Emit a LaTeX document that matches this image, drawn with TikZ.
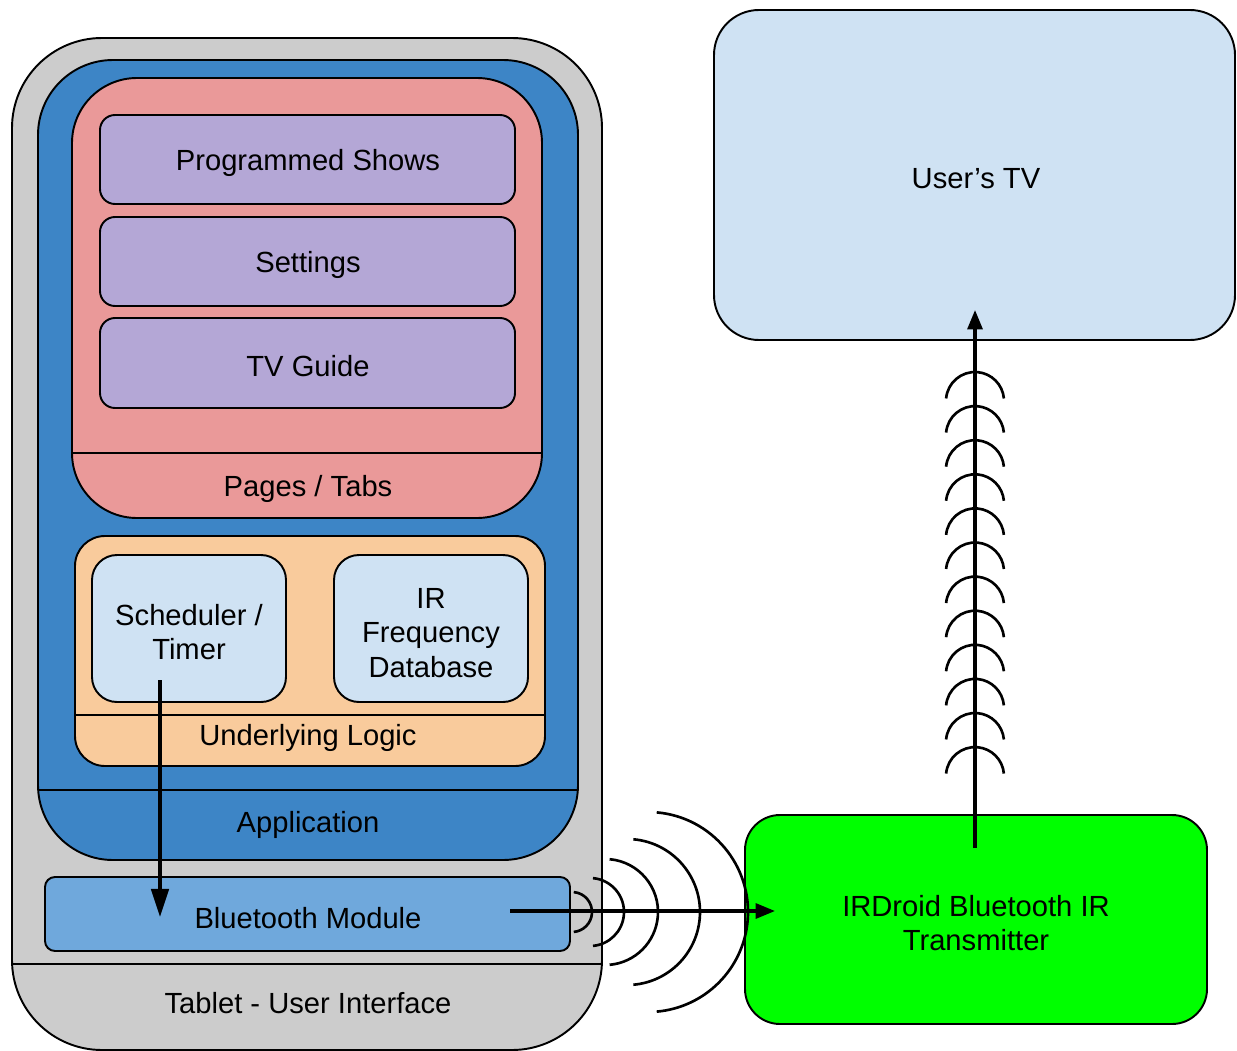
\documentclass[tikz,border=0pt]{standalone}
\usepackage{fontspec}
\setmainfont{Liberation Sans}
\usetikzlibrary{arrows.meta}
\definecolor{tabletgray}{HTML}{CCCCCC}
\definecolor{appblue}{HTML}{3D85C6}
\definecolor{pagepink}{HTML}{EA9999}
\definecolor{tabpurple}{HTML}{B4A7D6}
\definecolor{logicpeach}{HTML}{F9CB9C}
\definecolor{paleblue}{HTML}{CFE2F3}
\definecolor{btblue}{HTML}{6FA8DC}
\definecolor{irgreen}{HTML}{00FF00}

\begin{document}
\begin{tikzpicture}[x=0.02cm,y=-0.02cm,
  font=\fontsize{16.6}{19.6}\selectfont,
  box/.style={draw=black, line width=1.1pt},
  lbl/.style={align=center, inner sep=0pt, yshift=-1.6pt},
  wave/.style={line width=1.5pt},
  link/.style={line width=1.8pt, -{Triangle[length=11pt,width=8.5pt]}}]
 \useasboundingbox (0,0) rectangle (1237,1051);

% tablet
\filldraw[box, fill=tabletgray, rounded corners=1.8cm] (12,38) rectangle (602,1050);
\draw[box] (12,964) -- (602,964);
\node[lbl] (tablet) at (308,1000) {Tablet - User Interface};

% application
\filldraw[box, fill=appblue, rounded corners=1.5cm] (38,60) rectangle (578,860);
\draw[box] (38,790) -- (578,790);
\node[lbl] (app) at (308,822) {Application};

% pages / tabs
\filldraw[box, fill=pagepink, rounded corners=1.3cm] (72,78) rectangle (542,518);
\draw[box] (72,453) -- (542,453);
\node[lbl] (pages) at (308,486) {Pages / Tabs};

\filldraw[box, fill=tabpurple, rounded corners=0.3cm] (100,115) rectangle (515,204);
\filldraw[box, fill=tabpurple, rounded corners=0.3cm] (100,217) rectangle (515,306);
\filldraw[box, fill=tabpurple, rounded corners=0.3cm] (100,318) rectangle (515,408);
\node[lbl] (shows) at (308,160) {Programmed Shows};
\node[lbl] (settings) at (308,262) {Settings};
\node[lbl] (guide) at (308,363) {TV Guide};

% underlying logic
\filldraw[box, fill=logicpeach, rounded corners=0.6cm] (75,536) rectangle (545,766);
\draw[box] (75,715) -- (545,715);
\node[lbl] (logic) at (308,735) {Underlying Logic};

\filldraw[box, fill=paleblue, rounded corners=0.5cm] (92,555) rectangle (286,702);
\filldraw[box, fill=paleblue, rounded corners=0.5cm] (334,555) rectangle (528,702);
\node[lbl] (timer) at (189,629) {Scheduler /\\Timer};
\node[lbl] (irdb) at (431,630) {IR\\Frequency\\Database};

% bluetooth
\filldraw[box, fill=btblue, rounded corners=0.2cm] (45,877) rectangle (570,951);
\node[lbl] (bt) at (308,915) {Bluetooth Module};

% tv and transmitter
\filldraw[box, fill=paleblue, rounded corners=0.9cm] (714,10) rectangle (1235,340);
\node[lbl] (tv) at (976,176) {User’s TV};

\filldraw[box, fill=irgreen, rounded corners=0.7cm] (745,815) rectangle (1207,1024);
\node[lbl] (irdroid) at (976,920) {IRDroid Bluetooth IR\\Transmitter};

% connectors
\coordinate (timerout) at (160,680);
\coordinate (btin) at (160,917);
\coordinate (btout) at (510,911);
\coordinate (irin) at (775,911);
\coordinate (irout) at (975,848);
\coordinate (tvin) at (975,310);

\draw[line width=1.8pt, -{Triangle[length=16pt,width=10pt]}] (timerout) -- (btin);
\draw[link] (btout) -- (irin);
\draw[link] (irout) -- (tvin);

% bluetooth waves
\foreach \cx/\r in {572/20, 590/34, 605/53, 627/73, 648/100}
	\draw[wave] (\cx,912) ++(85:\r*0.02cm) arc[start angle=85, end angle=-85, radius=\r*0.02cm];

% infrared waves
\foreach \i in {0,...,11}
	\draw[wave] (975,372+\i*34.1) ++(0,29) ++(175:0.58cm) arc[start angle=175, end angle=5, radius=0.58cm];

\end{tikzpicture}
\end{document}
